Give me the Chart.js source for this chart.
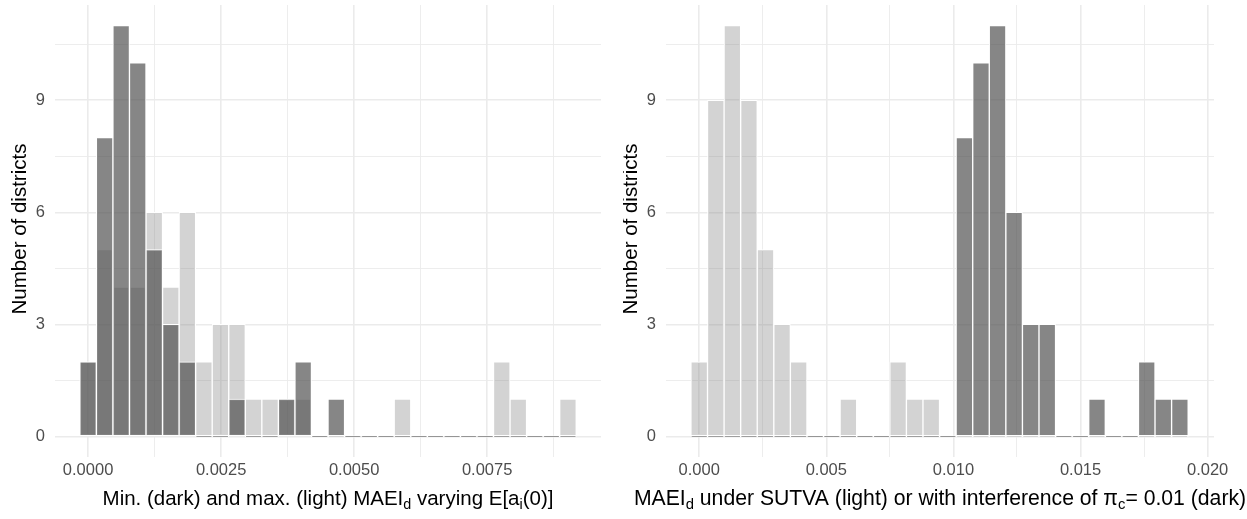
<!DOCTYPE html>
<html>
<head>
<meta charset="utf-8">
<title>MAEI histograms</title>
<script src="https://cdn.jsdelivr.net/npm/chart.js@4.4.1/dist/chart.umd.min.js"></script>
<style>
  body { margin: 0; background: #fff; }
  #wrap { position: relative; width: 1247px; height: 519px; overflow: hidden; }
  canvas { position: absolute; top: 0; }
  #left { left: 0; }
  #right { left: 623px; }
</style>
</head>
<body>
<div id="wrap">
  <canvas id="left" width="623" height="519"></canvas>
  <canvas id="right" width="624" height="519"></canvas>
</div>
<script>
// histogram bin centres (30 bins per panel)
const leftBins = [0, 0.000311, 0.000622, 0.000933, 0.001244, 0.001555, 0.001866, 0.002177, 0.002488, 0.002799,
  0.00311, 0.003421, 0.003732, 0.004043, 0.004354, 0.004665, 0.004976, 0.005287, 0.005598, 0.005909,
  0.00622, 0.006531, 0.006842, 0.007153, 0.007464, 0.007775, 0.008086, 0.008397, 0.008708, 0.009019];
const leftDark  = [2, 8, 11, 10, 5, 3, 2, 0, 0, 1, 0, 0, 1, 2, 0, 1, 0, 0, 0, 0, 0, 0, 0, 0, 0, 0, 0, 0, 0, 0];
const leftLight = [2, 5, 4, 4, 6, 4, 6, 2, 3, 3, 1, 1, 1, 1, 0, 0, 0, 0, 0, 1, 0, 0, 0, 0, 0, 2, 1, 0, 0, 1];

const rightBins = [0, 0.000652, 0.001304, 0.001956, 0.002608, 0.00326, 0.003912, 0.004564, 0.005216, 0.005868,
  0.00652, 0.007172, 0.007824, 0.008476, 0.009128, 0.00978, 0.010432, 0.011084, 0.011736, 0.012388,
  0.01304, 0.013692, 0.014344, 0.014996, 0.015648, 0.0163, 0.016952, 0.017604, 0.018256, 0.018908];
const rightLight = [2, 9, 11, 9, 5, 3, 2, 0, 0, 1, 0, 0, 2, 1, 1, 0, 0, 0, 0, 0, 0, 0, 0, 0, 0, 0, 0, 0, 0, 0];
const rightDark  = [0, 0, 0, 0, 0, 0, 0, 0, 0, 0, 0, 0, 0, 0, 0, 0, 8, 10, 11, 6, 3, 3, 0, 0, 1, 0, 0, 2, 1, 1];

const leftTicks = [0, 0.0025, 0.005, 0.0075];
const rightTicks = [0, 0.005, 0.01, 0.015, 0.02];
const yTicks = [0, 3, 6, 9];

const FONT = "'Liberation Sans', Arial, sans-serif";
const LIGHT = 'rgba(128,128,128,0.35)';
const DARK = 'rgba(76,76,76,0.68)';

Chart.defaults.font.family = FONT;

function isOn(list, v) {
    return list.some(t => Math.abs(t - v) < 1e-9);
}

function drawRich(ctx, parts, cx, baseline, size) {
    const subSize = size * 0.7;
    let total = 0;
    const widths = parts.map(p => {
        ctx.font = (p.sub ? subSize : size) + 'px ' + FONT;
        const w = ctx.measureText(p.t).width;
        total += w;
        return w;
    });
    let x = cx - total / 2;
    ctx.textAlign = 'left';
    ctx.textBaseline = 'alphabetic';
    parts.forEach((p, i) => {
        ctx.font = (p.sub ? subSize : size) + 'px ' + FONT;
        ctx.fillText(p.t, x, baseline + (p.sub ? size * 0.2 : 0));
        x += widths[i];
    });
}

const titlePlugin = {
    id: 'titles',
    afterDraw(chart, args, opts) {
        const ctx = chart.ctx;
        const area = chart.chartArea;
        ctx.save();
        ctx.fillStyle = '#000';
        drawRich(ctx, opts.parts, (area.left + area.right) / 2, 505, opts.size);
        ctx.translate(opts.yTitleX, 229);
        ctx.rotate(-Math.PI / 2);
        ctx.font = '20.5px ' + FONT;
        ctx.textAlign = 'center';
        ctx.textBaseline = 'alphabetic';
        ctx.fillText('Number of districts', 0, 0);
        ctx.restore();
    }
};

function makeHistogram(id, cfg) {
    const barStyle = {
        borderColor: '#ffffff',
        borderWidth: 1,
        borderSkipped: false,
        barPercentage: 1,
        categoryPercentage: 1,
        grouped: false,
        minBarLength: 1
    };
    return new Chart(document.getElementById(id), {
        type: 'bar',
        data: {
            datasets: [
                Object.assign({
                    label: 'dark',
                    data: cfg.bins.map((x, i) => ({ x: x, y: cfg.dark[i] })),
                    backgroundColor: DARK
                }, barStyle),
                Object.assign({
                    label: 'light',
                    data: cfg.bins.map((x, i) => ({ x: x, y: cfg.light[i] })),
                    backgroundColor: LIGHT
                }, barStyle)
            ]
        },
        options: {
            responsive: false,
            animation: false,
            devicePixelRatio: 1,
            layout: { padding: { left: 0, right: cfg.padRight, top: 5, bottom: 0 } },
            plugins: {
                legend: { display: false },
                tooltip: { enabled: false },
                titles: { parts: cfg.parts, yTitleX: cfg.yTitleX, size: cfg.titleSize }
            },
            scales: {
                x: {
                    type: 'linear',
                    offset: false,
                    min: cfg.xMin,
                    max: cfg.xMax,
                    afterFit: s => {
                        s.height = 62;
                        s.paddingLeft = 0;
                        s.paddingRight = 0;
                    },
                    ticks: {
                        stepSize: cfg.xStep,
                        includeBounds: false,
                        autoSkip: false,
                        maxRotation: 0,
                        padding: 4,
                        color: '#4d4d4d',
                        font: { size: 16.5 },
                        callback: v => isOn(cfg.xTicks, v) ? v.toFixed(cfg.decimals) : ''
                    },
                    grid: {
                        color: '#ebebeb',
                        offset: false,
                        drawTicks: false,
                        lineWidth: c => (c.tick && isOn(cfg.xTicks, c.tick.value)) ? 1.6 : 0.9
                    },
                    border: { display: false }
                },
                y: {
                    min: -0.55,
                    max: 11.55,
                    afterFit: s => {
                        s.width = cfg.yWidth;
                        s.paddingTop = 0;
                        s.paddingBottom = 0;
                    },
                    ticks: {
                        stepSize: 1.5,
                        includeBounds: false,
                        padding: 10,
                        color: '#4d4d4d',
                        font: { size: 16.5 },
                        callback: v => isOn(yTicks, v) ? String(v) : ''
                    },
                    grid: {
                        color: '#ebebeb',
                        drawTicks: false,
                        lineWidth: c => (c.tick && isOn(yTicks, c.tick.value)) ? 1.6 : 0.9
                    },
                    border: { display: false }
                }
            }
        },
        plugins: [titlePlugin]
    });
}

makeHistogram('left', {
    bins: leftBins, dark: leftDark, light: leftLight,
    xMin: -0.000622, xMax: 0.00964, xStep: 0.00125, xTicks: leftTicks, decimals: 4,
    yWidth: 55, padRight: 22, yTitleX: 25.5, titleSize: 20.5,
    parts: [
        { t: 'Min. (dark) and max. (light) MAEI' }, { t: 'd', sub: true },
        { t: ' varying E[a' }, { t: 'i', sub: true }, { t: '(0)]' }
    ]
});

makeHistogram('right', {
    bins: rightBins, dark: rightDark, light: rightLight,
    xMin: -0.001307, xMax: 0.02025, xStep: 0.0025, xTicks: rightTicks, decimals: 3,
    yWidth: 43, padRight: 33, yTitleX: 13.7, titleSize: 21.2,
    parts: [
        { t: 'MAEI' }, { t: 'd', sub: true },
        { t: ' under SUTVA (light) or with interference of \u03c0' }, { t: 'c', sub: true },
        { t: '= 0.01 (dark)' }
    ]
});
</script>
</body>
</html>
